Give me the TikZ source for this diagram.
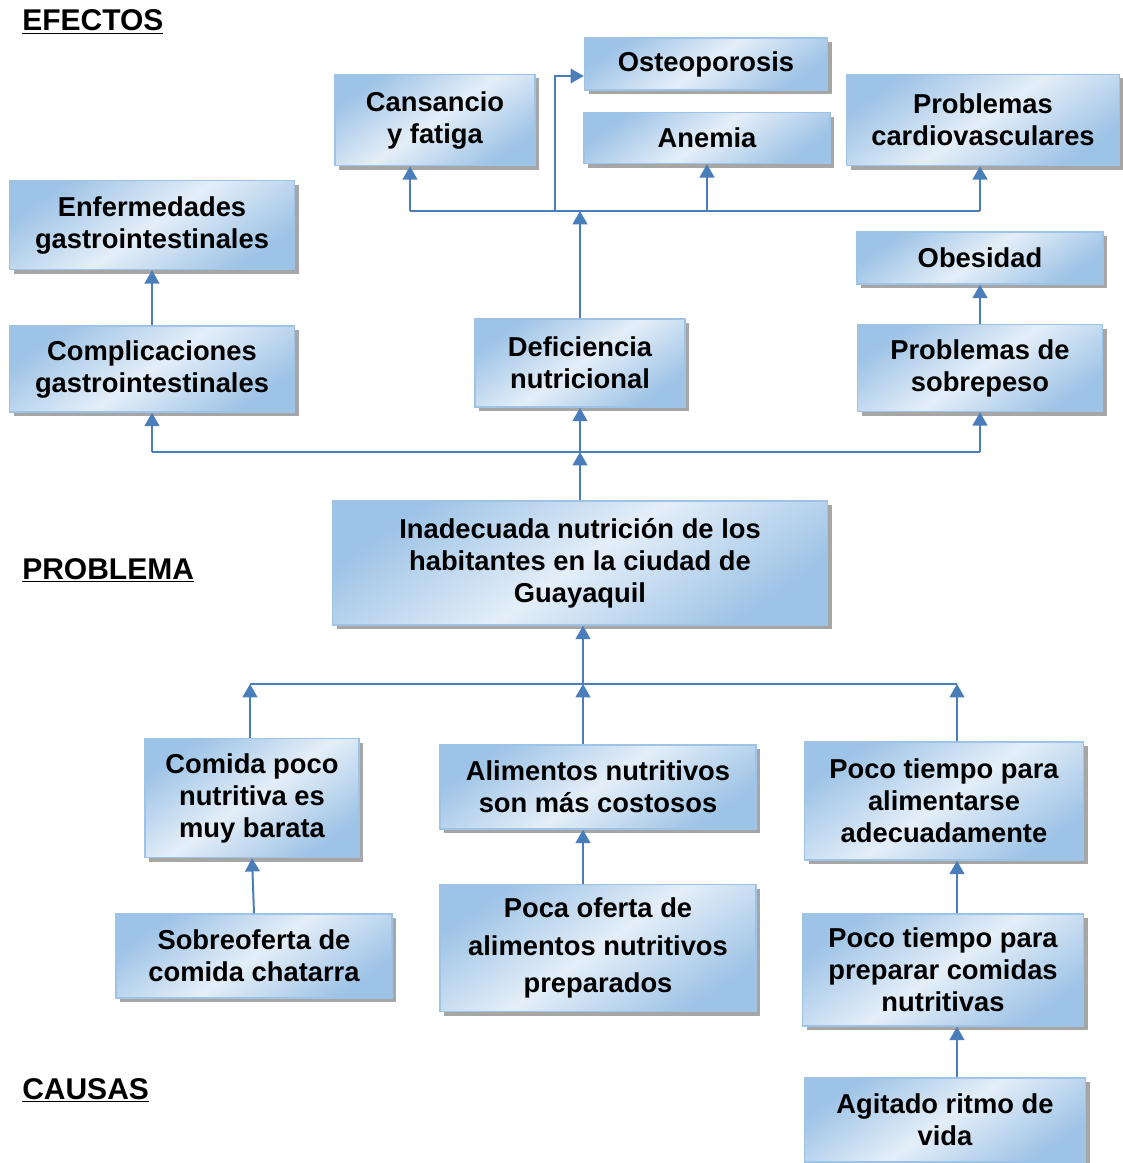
\documentclass[tikz,border=0pt]{standalone}
\usepackage{fontspec}
\setmainfont{Liberation Sans}
\usetikzlibrary{positioning,shadows,arrows.meta,calc}
\definecolor{boxdark}{HTML}{9DC3E6}
\definecolor{boxlight}{HTML}{E4EEF8}
\definecolor{linkblue}{HTML}{4A7EBB}
\tikzset{box/.style={rectangle, draw=boxdark, line width=1pt, top color=boxdark, bottom color=boxdark, middle color=boxlight, shading angle=35,
           drop shadow={shadow xshift=3pt, shadow yshift=-3pt, fill=gray!70, opacity=1},
           align=center, font=\bfseries\fontsize{20.5}{24}\selectfont, inner sep=0pt},
         sz/.style 2 args={minimum width=#1*0.75pt, minimum height=#2*0.75pt},
         link/.style={-{Triangle[width=11pt,length=10pt]}, color=linkblue, line width=1.5pt},
         bar/.style={color=linkblue, line width=1.5pt},
         head/.style={anchor=west, inner sep=0pt, font=\bfseries\fontsize{22.5}{24}\selectfont}
}

\begin{document}
\begin{tikzpicture}[x=0.75pt,y=-0.75pt]
  \fill[white] (0,0) rectangle (1122,1163);
  \useasboundingbox (0,0) rectangle (1122,1163);

  % titulos
  \node[head] (efe) at (22,22)   {\underline{EFECTOS}};
  \node[head] (pro) at (22,570)  {\underline{PROBLEMA}};
  \node[head] (cau) at (22,1090) {\underline{CAUSAS}};

  % efectos
  \node[box, sz={243}{52}] (osteo) at (706,64)  {Osteoporosis};
  \node[box, sz={200}{91}] (cans)  at (435,120) {Cansancio\\y fatiga};
  \node[box, sz={246}{51}] (anem)  at (707,138) {Anemia};
  \node[box, sz={273}{91}] (card)  at (983,120) {Problemas\\cardiovasculares};
  \node[box, sz={285}{89}] (enf)   at (152,225) {Enfermedades\\gastrointestinales};
  \node[box, sz={246}{52}] (obes)  at (980,258) {Obesidad};
  \node[box, sz={285}{86}] (comp)  at (152,369) {Complicaciones\\gastrointestinales};
  \node[box, sz={210}{88}] (defi)  at (580,363) {Deficiencia\\nutricional};
  \node[box, sz={245}{87}] (sobr)  at (980,368) {Problemas de\\sobrepeso};

  % problema
  \node[box, sz={495}{124}] (prob) at (580,563) {Inadecuada nutrici\'on de los\\habitantes en la ciudad de\\Guayaquil};

  % causas
  \node[box, sz={214}{119}] (comi) at (252,798) {Comida poco\\nutritiva es\\muy barata};
  \node[box, sz={316}{84}]  (alim) at (598,787) {Alimentos nutritivos\\son m\'as costosos};
  \node[box, sz={279}{118}] (tiem) at (944,801) {Poco tiempo para\\alimentarse\\adecuadamente};
  \node[box, sz={276}{84}]  (sobo) at (254,956) {Sobreoferta de\\comida chatarra};
  \node[box, sz={316}{127}] (poca) at (598,948) {Poca oferta de\\[4pt]alimentos nutritivos\\[4pt]preparados};
  \node[box, sz={281}{112}] (prep) at (943,970) {Poco tiempo para\\preparar comidas\\nutritivas};
  \node[box, sz={281}{84}]  (agit) at (945,1120) {Agitado ritmo de\\vida};

  % conectores efectos
  \coordinate (tl) at (410,211);
  \coordinate (tm) at (555,211);
  \coordinate (tr) at (980,211);
  \draw[bar] (tl) -- (tr);
  \draw[link] (tl) -- (tl |- cans.south);
  \draw[link] (anem.south |- tl) -- (anem.south);
  \draw[link] (tr) -- (tr |- card.south);
  \draw[link] (tm) |- ([yshift=-9pt]osteo.west);
  \draw[link] (defi.north) -- (defi.north |- tl);
  \draw[link] (comp.north) -- (enf.south);
  \draw[link] (sobr.north) -- (obes.south);

  \coordinate (ml) at (152,452);
  \coordinate (mr) at (980,452);
  \draw[bar] (ml) -- (mr);
  \draw[link] (ml) -- (comp.south);
  \draw[link] (defi.south |- ml) -- (defi.south);
  \draw[link] (mr) -- (sobr.south);
  \draw[link] (prob.north) -- (prob.north |- ml);

  % conectores causas
  \coordinate (bl) at (250,684);
  \coordinate (bm) at (583,684);
  \coordinate (br) at (957,684);
  \draw[bar] (bl) -- (br);
  \draw[link] (bm) -- (bm |- prob.south);
  \draw[link] (bl |- comi.north) -- (bl);
  \draw[link] (bm |- alim.north) -- (bm);
  \draw[link] (br |- tiem.north) -- (br);
  \draw[link] (sobo.north) -- (comi.south);
  \draw[link] (bm |- poca.north) -- (bm |- alim.south);
  \draw[link] (br |- prep.north) -- (br |- tiem.south);
  \draw[link] (br |- agit.north) -- (br |- prep.south);
\end{tikzpicture}
\end{document}
